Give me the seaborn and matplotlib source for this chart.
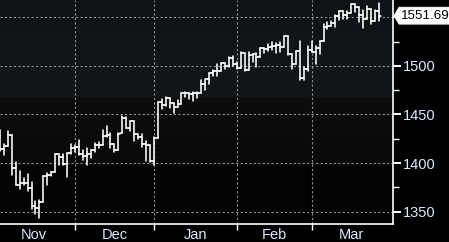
import numpy as np
import pandas as pd
import matplotlib
matplotlib.use("Agg")
import matplotlib.pyplot as plt
import matplotlib.ticker as mticker
from matplotlib.patches import Polygon
import seaborn as sns

# ---------------- data (read/estimated from the chart) ----------------
dates = ["2012-11-01","2012-11-02","2012-11-05","2012-11-06","2012-11-07","2012-11-08","2012-11-09",
         "2012-11-12","2012-11-13","2012-11-14","2012-11-15","2012-11-16","2012-11-19","2012-11-20",
         "2012-11-21","2012-11-23","2012-11-26","2012-11-27","2012-11-28","2012-11-29","2012-11-30",
         "2012-12-03","2012-12-04","2012-12-05","2012-12-06","2012-12-07","2012-12-10","2012-12-11",
         "2012-12-12","2012-12-13","2012-12-14","2012-12-17","2012-12-18","2012-12-19","2012-12-20",
         "2012-12-21","2012-12-24","2012-12-26","2012-12-27","2012-12-28","2012-12-31",
         "2013-01-02","2013-01-03","2013-01-04","2013-01-07","2013-01-08","2013-01-09","2013-01-10",
         "2013-01-11","2013-01-14","2013-01-15","2013-01-16","2013-01-17","2013-01-18","2013-01-22",
         "2013-01-23","2013-01-24","2013-01-25","2013-01-28","2013-01-29","2013-01-30","2013-01-31",
         "2013-02-01","2013-02-04","2013-02-05","2013-02-06","2013-02-07","2013-02-08","2013-02-11",
         "2013-02-12","2013-02-13","2013-02-14","2013-02-15","2013-02-19","2013-02-20","2013-02-21",
         "2013-02-22","2013-02-25","2013-02-26","2013-02-27","2013-02-28",
         "2013-03-01","2013-03-04","2013-03-05","2013-03-06","2013-03-07","2013-03-08","2013-03-11",
         "2013-03-12","2013-03-13","2013-03-14","2013-03-15","2013-03-18","2013-03-19","2013-03-20",
         "2013-03-21","2013-03-22","2013-03-25"]

opens = [1412.2,1427.6,1414.2,1417.3,1428.4,1394.5,1377.5,1379.9,1380.0,1374.6,1355.4,1353.4,1359.9,1386.8,
         1387.8,1391.0,1409.2,1406.3,1398.8,1409.9,1416.0,
         1416.3,1409.5,1407.1,1409.4,1413.9,1418.1,1418.6,1427.8,1428.5,1419.5,1413.5,1430.5,1446.8,1435.8,
         1443.7,1430.2,1426.7,1419.8,1418.1,1402.4,
         1426.2,1462.4,1459.4,1466.5,1461.9,1457.2,1461.0,1472.1,1472.1,1470.7,1472.3,1472.6,1480.9,1486.0,
         1492.6,1494.8,1494.8,1503.0,1500.2,1507.8,1502.0,
         1498.1,1513.2,1495.7,1511.3,1512.1,1509.4,1517.9,1517.0,1519.4,1520.3,1521.4,1519.8,1530.9,1512.0,
         1502.4,1515.6,1487.9,1496.9,1516.0,
         1514.7,1518.2,1525.2,1539.8,1541.5,1544.3,1551.2,1556.2,1552.5,1554.5,1563.2,1560.7,1552.1,1548.3,
         1558.7,1545.8,1556.9]
highs = [1428.4,1434.3,1419.4,1433.4,1428.4,1401.5,1391.4,1384.9,1388.8,1380.1,1360.6,1362.0,1386.9,1389.8,
         1391.3,1409.2,1409.2,1409.0,1410.0,1419.7,1418.9,
         1423.7,1413.1,1415.6,1413.9,1420.3,1421.6,1434.3,1438.6,1431.4,1419.5,1430.7,1448.0,1447.8,1443.7,
         1443.7,1430.2,1429.4,1422.8,1418.1,1426.7,
         1462.4,1465.5,1467.9,1466.5,1461.9,1464.7,1472.3,1472.8,1472.1,1473.3,1473.0,1485.2,1485.9,1492.6,
         1496.1,1502.3,1503.3,1503.2,1509.4,1509.9,1504.2,
         1514.4,1513.2,1514.4,1512.5,1512.9,1518.3,1518.3,1522.3,1524.7,1523.1,1524.2,1530.9,1530.9,1512.0,
         1515.6,1525.8,1498.5,1520.1,1525.3,
         1520.0,1525.3,1543.5,1545.3,1545.8,1552.5,1556.3,1556.8,1556.4,1563.3,1563.6,1560.7,1557.3,1561.6,
         1558.7,1557.7,1564.9]
lows = [1412.2,1412.9,1408.1,1417.3,1388.1,1377.5,1373.0,1377.2,1370.8,1352.5,1348.1,1343.4,1359.9,1377.0,
        1386.4,1391.0,1397.7,1398.0,1385.4,1409.0,1411.6,
        1408.5,1403.6,1398.2,1405.0,1410.9,1415.6,1418.6,1426.8,1416.0,1411.9,1413.5,1430.5,1435.8,1432.8,
        1422.6,1424.7,1416.4,1401.8,1401.6,1398.1,
        1426.2,1455.5,1458.6,1456.6,1451.6,1457.2,1461.0,1467.6,1465.7,1463.8,1467.1,1472.6,1475.6,1481.2,
        1489.9,1489.5,1494.8,1496.3,1498.9,1500.1,1497.0,
        1498.1,1495.0,1495.7,1504.0,1498.5,1509.4,1513.6,1515.6,1515.9,1513.5,1514.1,1519.8,1511.4,1497.3,
        1502.4,1485.0,1485.0,1494.9,1514.5,
        1501.5,1512.3,1525.2,1538.1,1541.5,1539.6,1547.4,1548.2,1548.3,1554.5,1555.7,1545.1,1538.6,1548.3,
        1543.6,1545.8,1546.2]
closes = [1427.6,1414.2,1417.3,1428.4,1394.5,1377.5,1379.9,1380.0,1374.5,1355.5,1353.3,1359.9,1386.9,1387.8,
          1391.0,1409.2,1406.3,1398.9,1409.9,1416.0,1416.2,
          1409.5,1407.1,1409.3,1413.9,1418.1,1418.6,1427.8,1428.5,1419.5,1413.6,1430.4,1446.8,1435.8,1443.7,
          1430.2,1426.7,1419.8,1418.1,1402.4,1426.2,
          1462.4,1459.4,1466.5,1461.9,1457.2,1461.0,1472.1,1472.1,1470.7,1472.3,1472.6,1480.9,1486.0,1492.6,
          1494.8,1494.8,1503.0,1500.2,1507.8,1502.0,1498.1,
          1513.2,1495.7,1511.3,1512.1,1509.4,1517.9,1517.0,1519.4,1520.3,1521.4,1519.8,1530.9,1512.0,1502.4,
          1515.6,1487.9,1496.9,1516.0,1514.7,
          1518.2,1525.2,1539.8,1541.5,1544.3,1551.2,1556.2,1552.5,1554.5,1563.2,1560.7,1552.1,1548.3,1558.7,
          1545.8,1556.9,1551.69]

month_labels = ["Nov", "Dec", "Jan", "Feb", "Mar"]
y_ticks = [1350, 1400, 1450, 1500, 1550]
y_tick_labels = ["1350", "1400", "1450", "1500", ""]
y_minor_ticks = [1375, 1425, 1475, 1525]
last_price_label = "1551.69"

# ---------------- build long-form segments for seaborn ----------------
n = len(dates)
half = 0.5
rows = []
for i in range(n):
    rows += [(i, lows[i], 3 * i), (i, highs[i], 3 * i)]
    rows += [(i - half, opens[i], 3 * i + 1), (i, opens[i], 3 * i + 1)]
    rows += [(i, closes[i], 3 * i + 2), (i + half, closes[i], 3 * i + 2)]
seg = pd.DataFrame(rows, columns=["x", "y", "seg"])

dt = pd.to_datetime(pd.Series(dates))
months = dt.dt.to_period("M")
month_end_idx = [int(np.where(months == m)[0].max()) for m in months.unique()[:-1]]
bounds = [-1] + month_end_idx + [month_end_idx[-1] + 20]
month_centers = [(bounds[k] + bounds[k + 1]) / 2 for k in range(len(bounds) - 1)]

# ---------------- style ----------------
sns.set_theme(style="dark")
fam = ["Liberation Sans", "DejaVu Sans"]
plt.rcParams["font.family"] = fam
txt_color = "#dde8ff"

W, H = 449, 242
fig = plt.figure(figsize=(W / 100, H / 100), dpi=100, facecolor="black")
ax = fig.add_axes([0, 1 - 224 / H, 393 / W, 224 / H])
ax.set_facecolor("black")

# background gradient
rows_px = np.arange(224)
stops = [0, 96, 98, 164, 166, 223]
rc = [15, 17, 14, 10, 3, 3]
gc = [19, 22, 12, 9, 3, 3]
bc = [22, 26, 12, 9, 3, 3]
grad = np.stack([np.interp(rows_px, stops, rc), np.interp(rows_px, stops, gc),
                 np.interp(rows_px, stops, bc)], axis=-1)[:, None, :] / 255.0
ax.imshow(grad, extent=(0, 1, 0, 1), transform=ax.transAxes, aspect="auto",
          zorder=0, interpolation="bilinear")

sns.lineplot(data=seg, x="x", y="y", units="seg", estimator=None, sort=False,
             color="white", linewidth=1.15, ax=ax, zorder=3)

ax.set_xlim(1.01, 100.6)
ax.set_ylim(1337.3, 1567.8)
ax.set_xlabel("")
ax.set_ylabel("")

# axes / ticks
ax.yaxis.tick_right()
ax.set_yticks(y_ticks)
ax.set_yticklabels(y_tick_labels)
ax.yaxis.set_minor_locator(mticker.FixedLocator(y_minor_ticks))
ax.set_xticks(month_centers)
ax.set_xticklabels(month_labels)
ax.xaxis.set_minor_locator(mticker.FixedLocator(month_end_idx))

ax.tick_params(axis="y", which="major", length=6, width=1.4, color="white",
               labelcolor=txt_color, labelsize=10.5, pad=1, right=True, left=False)
ax.tick_params(axis="y", which="minor", length=4, width=1, color="white", right=True, left=False)
ax.tick_params(axis="x", which="major", length=0, labelcolor=txt_color, labelsize=10.5, pad=3)
ax.tick_params(axis="x", which="minor", length=4, width=1, color="white", bottom=True)

ax.grid(False)
ax.yaxis.grid(True, which="major", color="#8f8f8f", linestyle=(0, (2, 2)), linewidth=0.8)
ax.xaxis.grid(True, which="minor", color="#8f8f8f", linestyle=(0, (2, 2)), linewidth=0.8)

for s in ["top", "left"]:
    ax.spines[s].set_visible(False)
for s in ["right", "bottom"]:
    ax.spines[s].set_visible(True)
    ax.spines[s].set_color("white")
    ax.spines[s].set_linewidth(1.2)

# last price label: arrow-shaped white tag on the right axis
ax_y_px = ax.transData.transform((0, closes[-1]))[1]  # display pixels from bottom
fig.canvas.draw()
yc = ax.transData.transform((0, closes[-1]))[1] / H
tip_x, body_x, right_x = 394 / W, 399 / W, 449 / W
hh = 8.5 / H
tag = Polygon([(tip_x, yc), (body_x, yc + hh), (right_x, yc + hh), (right_x, yc - hh), (body_x, yc - hh)],
              closed=True, transform=fig.transFigure, fc="white", ec="white", lw=0.5, zorder=5)
fig.patches.append(tag)
fig.text(401 / W, yc, last_price_label, ha="left", va="center", fontsize=9.6, color="black",
         family=fam, zorder=6)

fig.savefig("out.png", dpi=100, facecolor="black")
